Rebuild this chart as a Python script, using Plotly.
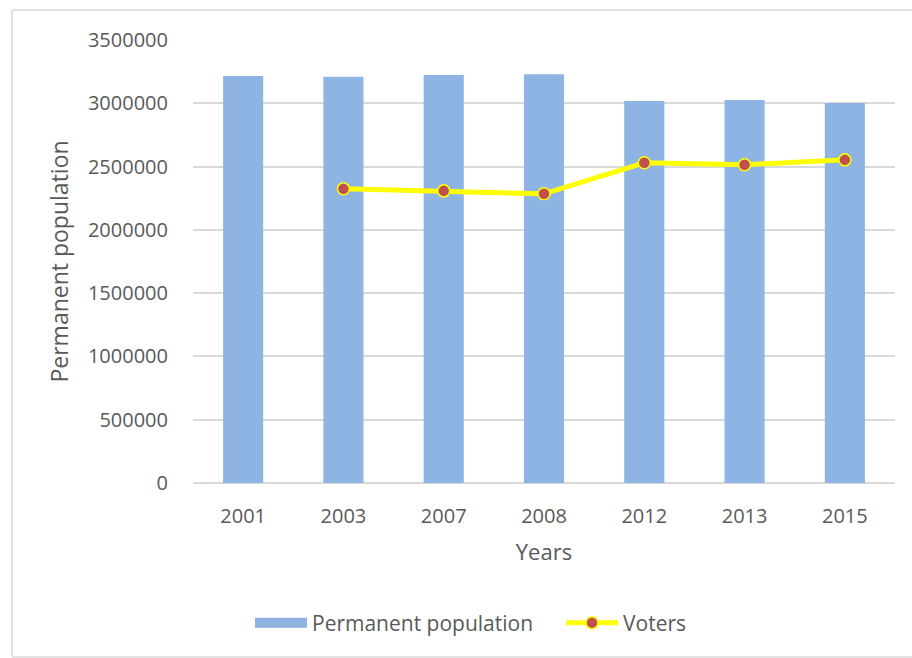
import plotly.graph_objects as go

# Census years and population figures
years = ["2001", "2003", "2007", "2008", "2012", "2013", "2015"]
permanent_population = [3215000, 3210000, 3223000, 3230000, 3018000, 3026000, 3002000]
voters = [None, 2324000, 2308000, 2285000, 2530000, 2514000, 2553000]
y_ticks = [0, 500000, 1000000, 1500000, 2000000, 2500000, 3000000, 3500000]

FONT = "Open Sans, Lato, sans-serif"
TEXT = "#595959"
GRID = "#D9D9D9"
BAR = "#8EB4E3"

W, H = 912, 658
L, R, T, B = 193, 17, 40, 175
pw, ph = W - L - R, H - T - B


def px_x(x):
    return (x - L) / pw


def px_y(y):
    return (H - B - y) / ph


fig = go.Figure()
fig.add_trace(go.Bar(
    x=years, y=permanent_population, name="Permanent population",
    marker=dict(color=BAR, line=dict(width=0)),
    legendgroup="pop", showlegend=False,
))
# wide swatch for the bar series in the legend
fig.add_trace(go.Scatter(
    x=[None], y=[None], name="Permanent population", mode="lines",
    line=dict(color=BAR, width=14), legendgroup="pop", hoverinfo="skip",
))
fig.add_trace(go.Scatter(
    x=years, y=voters, name="Voters", mode="lines+markers",
    line=dict(color="#FFFF00", width=5),
    marker=dict(color="#C0504D", size=12, line=dict(color="#FFFF00", width=1.5)),
))

# chart frame: left, top and bottom edges (right edge runs off the page)
frame = dict(color=GRID, width=1.5)
fx0, fx1, fy0, fy1 = px_x(12), px_x(960), px_y(657), px_y(10)
for x0, y0, x1, y1 in [(fx0, fy0, fx0, fy1), (fx0, fy1, fx1, fy1), (fx0, fy0, fx1, fy0)]:
    fig.add_shape(type="line", xref="paper", yref="paper",
                  x0=x0, y0=y0, x1=x1, y1=y1, line=frame, layer="below")

fig.update_layout(
    width=W, height=H,
    margin=dict(l=L, r=R, t=T, b=B, autoexpand=False),
    paper_bgcolor="white", plot_bgcolor="white",
    bargap=0.6,
    font=dict(family=FONT, color=TEXT),
    showlegend=True,
    legend=dict(orientation="h", x=px_x(250), y=px_y(623), xanchor="left", yanchor="middle",
                font=dict(size=21, color=TEXT, family=FONT), itemwidth=52,
                entrywidth=244, entrywidthmode="pixels",
                bgcolor="rgba(0,0,0,0)"),
    xaxis=dict(
        type="category", showgrid=False, showline=False, zeroline=False,
        tickfont=dict(size=20, color=TEXT, family=FONT),
        ticklabelstandoff=19,
        title=dict(text="Years", font=dict(size=22, color=TEXT, family=FONT), standoff=16),
    ),
    yaxis=dict(
        range=[0, 3500000], tickvals=y_ticks, ticktext=[str(v) for v in y_ticks],
        showgrid=True, gridcolor=GRID, gridwidth=1.5,
        zeroline=True, zerolinecolor=GRID, zerolinewidth=1.5,
        showline=False,
        tickfont=dict(size=20, color=TEXT, family=FONT),
        ticklabelstandoff=24,
        title=dict(text="Permanent population", font=dict(size=23, color=TEXT, family=FONT), standoff=12),
    ),
)

fig.write_html("out.html")
